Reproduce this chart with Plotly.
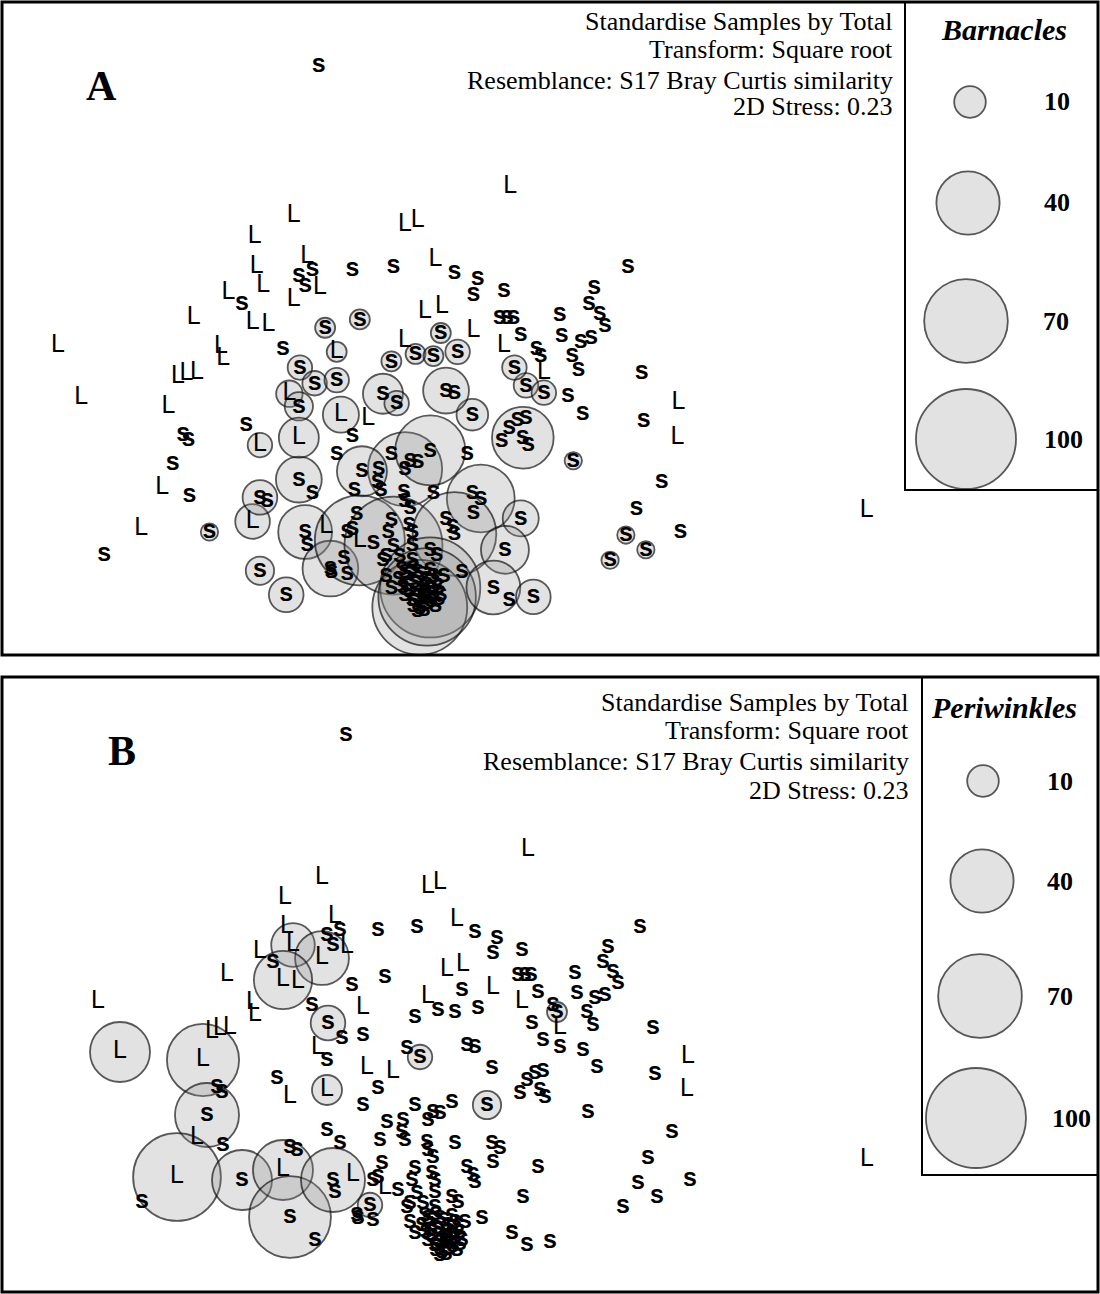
import numpy as np
import plotly.graph_objects as go

# nMDS ordination of quadrat samples (S = sheltered shore, L = lagoon shore)
site = list(
    "sLLLLLLLss" "sLssLsssss" "ssssLLsLLL" "ssLLLLsLss" "sLsLLLLLLs"
    "sssLsLssLs" "sssLssssss" "LLsLssssss" "ssssssssss" "ssssssLsss"
    "ssssssssss" "ssssssssss" "ssssssssss" "ssssssssss" "ssssssssss"
    "ssLLssssss" "ssssssssss" "ssLsssssss" "sssssLLsLL" "LssssL"
    "ssssssssss" "ssss"
)

mds1 = [
    -1.24, 0.58, -0.42, -0.30, -1.48, -1.85, -1.35, -1.83, -1.43, -1.30,
    -1.37, -1.23, -0.92, -0.53, -0.13, 0.05, 0.27, 0.23, 0.52, 1.70,
    1.38, 1.33, 1.43, 1.48, -1.77, -2.10, -1.97, -1.48, -1.87, -1.72,
    -1.18, -0.85, -2.43, -3.72, -2.17, -2.15, -1.58, -1.07, -1.42, -1.28,
    -1.07, -1.52, -1.43, -1.03, -2.58, -2.50, -2.40, -3.50, -2.67, -1.93,
    -2.53, -2.48, -2.63, -2.73, -2.47, -2.93, -3.28, -2.28, -1.87, -1.80,
    -1.73, -1.80, -1.55, -1.17, -1.37, -1.35, -1.13, -1.07, -1.43, -1.30,
    -1.80, -1.43, -0.92, -0.77, -0.55, -0.37, -0.30, -0.42, -0.18, 0.17,
    -0.83, -0.67, -0.68, -0.65, -0.90, -0.43, -0.42, -0.37, -0.15, 0.22,
    0.30, 0.23, 0.68, -0.88, -0.97, -0.92, -0.85, -0.72, -0.55, -0.58,
    -0.53, -0.60, -0.63, -0.38, -0.35, -0.35, -0.47, -0.35, -0.03, 0.03,
    0.05, -0.18, -0.12, -0.60, -0.55, -0.45, -0.38, -0.30, -0.22, -0.15,
    -0.40, -0.32, -0.25, -0.18, -0.10, -0.35, -0.28, -0.20, -0.42, -0.33,
    -0.24, -0.21, -0.30, -0.08, -0.48, -0.13, -0.05, 0.12, 0.53, 0.42,
    0.57, 0.80, -1.00, -1.12, -0.97, 1.18, 2.02, 1.78, 1.68, 2.20,
    1.87, 1.53, 2.17, 2.18, 1.85, 1.27, 0.65, 0.73, 0.57, 0.70,
    0.75, 0.50, 0.22, 1.83, 0.73, 0.90, 1.13, -0.03, 0.05, -0.63,
    -0.50, 0.62, 0.90, 1.17, 1.23, 0.83, 0.87, -0.32, -0.15, 0.08,
    -0.55, 1.25, 1.35, 1.07, 0.68, 0.52, 0.23, -0.08, -0.42, -0.23,
    -0.07, 0.48, 0.55, 0.61, 1.05, 3.97,
    -0.42, -0.34, -0.26, -0.18, -0.12, -0.38, -0.30, -0.23, -0.15, -0.34,
    -0.24, -0.17, -0.44, -0.10,
]

mds2 = [
    2.65, 1.50, 1.13, 1.17, 1.22, 1.02, 0.83, 0.73, 0.65, 0.70,
    0.55, 0.53, 0.70, 0.73, 0.80, 0.68, 0.62, 0.47, 0.50, 0.73,
    0.53, 0.38, 0.28, 0.17, 0.55, 0.48, 0.38, 0.42, 0.20, 0.18,
    0.15, 0.23, 0.25, -0.02, -0.03, -0.15, -0.05, -0.08, -0.23, -0.38,
    -0.35, -0.48, -0.60, -0.68, -0.32, -0.29, -0.28, -0.52, -0.60, -0.78,
    -0.87, -0.92, -1.15, -1.38, -1.45, -1.77, -2.02, -1.80, -1.70, -1.47,
    -1.50, -2.17, -2.40, -1.75, -1.80, -1.92, -2.15, -1.05, -1.30, -1.43,
    -0.97, -0.90, -0.88, -0.72, -1.05, -1.12, -1.13, -1.20, -1.02, -1.05,
    -1.22, -1.20, -1.32, -1.40, -1.40, -1.42, -1.50, -1.57, -1.43, -1.43,
    -1.48, -1.62, -1.67, -1.63, -1.80, -1.77, -1.88, -1.90, -1.68, -1.80,
    -1.93, -2.03, -2.07, -1.73, -1.80, -1.92, -2.03, -2.07, -1.67, -1.75,
    -1.82, -1.97, -2.02, -2.22, -2.33, -2.15, -2.20, -2.18, -2.25, -2.22,
    -2.30, -2.35, -2.40, -2.33, -2.32, -2.45, -2.52, -2.48, -2.40, -2.28,
    -2.32, -2.42, -2.55, -2.40, -2.25, -2.50, -2.22, -2.18, -1.97, -2.33,
    -2.45, -2.42, -2.05, -2.18, -2.20, -1.12, -1.32, -1.58, -1.83, -1.80,
    -1.97, -2.07, -0.90, -0.57, -0.74, -0.67, -0.73, -0.71, -0.80, -0.90,
    -0.97, -0.93, -0.68, -0.28, -0.40, -0.47, -0.50, -0.45, -0.47, -0.48,
    -0.57, -0.23, -0.28, -0.12, -0.25, -0.05, -0.12, -0.10, -0.12, -0.08,
    -0.17, 0.02, 0.05, 0.07, 0.08, -0.02, 0.12, 0.10, 0.03, 0.30,
    0.35, 0.25, 0.25, 0.25, 0.27, -1.60,
    -2.18, -2.14, -2.20, -2.16, -2.26, -2.36, -2.42, -2.36, -2.38, -2.50,
    -2.54, -2.46, -2.32, -2.44,
]

# percentage cover in each quadrat
barnacles = [
    0, 0, 0, 0, 0, 0, 0, 0, 0, 0,
    0, 0, 0, 0, 0, 0, 0, 0, 0, 0,
    0, 0, 0, 0, 0, 0, 0, 0, 0, 0,
    4, 4, 0, 0, 0, 0, 0, 4, 6, 6,
    6, 7, 8, 13, 0, 0, 0, 0, 0, 0,
    0, 0, 0, 0, 0, 0, 0, 3, 12, 12,
    0, 8, 12, 0, 29, 0, 31, 0, 21, 0,
    6, 16, 0, 0, 0, 0, 0, 55, 49, 0,
    25, 0, 0, 0, 0, 0, 0, 0, 0, 0,
    46, 0, 13, 0, 0, 0, 81, 0, 0, 0,
    96, 0, 0, 0, 0, 0, 0, 0, 0, 0,
    70, 0, 0, 0, 0, 0, 0, 0, 0, 0,
    0, 0, 0, 100, 0, 0, 90, 0, 0, 0,
    0, 95, 0, 0, 0, 0, 0, 0, 23, 29,
    0, 12, 0, 0, 0, 3, 0, 0, 3, 0,
    3, 3, 0, 0, 0, 0, 0, 0, 0, 38,
    0, 0, 10, 0, 6, 6, 0, 21, 0, 16,
    6, 6, 0, 0, 0, 0, 0, 4, 4, 6,
    4, 0, 0, 0, 0, 0, 0, 4, 0, 0,
    0, 0, 0, 0, 0, 0,
    0, 0, 0, 0, 0, 0, 0, 0, 0, 0,
    0, 0, 0, 0,
]

periwinkles = [
    0, 0, 0, 0, 0, 0, 0, 0, 0, 0,
    0, 0, 0, 0, 0, 0, 0, 0, 0, 0,
    0, 0, 0, 0, 19, 0, 0, 29, 34, 0,
    0, 0, 0, 0, 0, 0, 0, 0, 12, 0,
    0, 0, 0, 0, 0, 0, 0, 36, 52, 0,
    0, 0, 41, 0, 0, 77, 0, 36, 36, 0,
    0, 67, 0, 0, 41, 0, 0, 0, 0, 0,
    0, 9, 0, 0, 0, 0, 0, 0, 0, 8,
    0, 0, 0, 0, 0, 0, 0, 0, 0, 0,
    0, 0, 0, 0, 0, 0, 0, 0, 0, 0,
    0, 0, 0, 0, 0, 0, 0, 0, 0, 0,
    0, 0, 0, 0, 0, 0, 0, 0, 0, 0,
    0, 0, 0, 0, 0, 0, 0, 0, 0, 0,
    0, 0, 0, 0, 0, 0, 0, 0, 0, 0,
    0, 0, 6, 0, 0, 0, 0, 0, 0, 0,
    0, 0, 0, 0, 0, 0, 0, 0, 0, 0,
    0, 0, 0, 0, 0, 0, 0, 0, 0, 0,
    6, 0, 0, 0, 0, 0, 4, 0, 0, 0,
    0, 0, 0, 0, 0, 0, 0, 0, 0, 0,
    0, 0, 0, 0, 0, 0,
    0, 0, 0, 0, 0, 0, 0, 0, 0, 0,
    0, 0, 0, 0,
]

legend_values = [10, 40, 70, 100]
stats_lines = [
    "Standardise Samples by Total",
    "Transform: Square root",
    "Resemblance: S17 Bray Curtis similarity",
    "2D Stress: 0.23",
]

W, H = 1100, 1294
SANS = "Liberation Sans, Arial, sans-serif"
SERIF = "Liberation Serif, Times New Roman, serif"
BUBBLE_FILL = "rgba(140,140,140,0.36)"
BUBBLE_LINE = dict(color="#111111", width=1.8)


def px(x):
    return x / W


def py(y):
    return 1 - y / H


def bubble_diameter(v):
    return 10.0 * np.sqrt(np.asarray(v, dtype=float))


x = np.array(mds1)
y = np.array(mds2)
lab = np.array(site)

panels = [
    dict(key="A", values=np.array(barnacles), xa="x", ya="y",
         xr=[-4.253, 6.170], yr=[-2.975, 3.261], top=2, bottom=655,
         legend_title="Barnacles", box_left=905, box_bottom=490,
         text_right=895, text_y=[22, 50, 80, 107], letter_xy=(101, 86),
         leg_cx=[970, 968, 966, 966], leg_cy=[102, 203, 321, 439],
         num_x=[1057, 1057, 1056, 1063], title_xy=(1004, 30)),
    dict(key="B", values=np.array(periwinkles), xa="x2", ya="y2",
         xr=[-4.68, 6.28], yr=[-2.92, 3.23], top=677, bottom=1292,
         legend_title="Periwinkles", box_left=922, box_bottom=1175,
         text_right=911, text_y=[702, 731, 761, 790], letter_xy=(122, 751),
         leg_cx=[983, 982, 980, 976], leg_cy=[781, 881, 996, 1118],
         num_x=[1060, 1060, 1060, 1071], title_xy=(1004, 707)),
]

fig = go.Figure()
shapes = []
annotations = []

for p in panels:
    v = p["values"]
    has = v > 0
    # abundance bubbles centred on each sample
    fig.add_trace(go.Scatter(
        x=x[has], y=y[has], xaxis=p["xa"], yaxis=p["ya"], mode="markers",
        marker=dict(size=bubble_diameter(v[has]), sizemode="diameter",
                    color=BUBBLE_FILL, line=BUBBLE_LINE),
        hoverinfo="skip", showlegend=False,
    ))
    # sample labels
    for letter, weight, fsize in (("s", "bold", 25), ("L", "normal", 25)):
        m = lab == letter
        fig.add_trace(go.Scatter(
            x=x[m], y=y[m], xaxis=p["xa"], yaxis=p["ya"], mode="text",
            text=[letter] * int(m.sum()), textposition="middle center",
            textfont=dict(family=SANS, size=fsize, color="black", weight=weight),
            hoverinfo="skip", showlegend=False, cliponaxis=False,
        ))

    # legend bubbles on a pixel-scaled overlay axis
    fig.add_trace(go.Scatter(
        x=p["leg_cx"], y=p["leg_cy"], xaxis="x3", yaxis="y3", mode="markers",
        marker=dict(size=bubble_diameter(legend_values), sizemode="diameter",
                    color=BUBBLE_FILL, line=BUBBLE_LINE),
        hoverinfo="skip", showlegend=False,
    ))
    for val, nx, cy in zip(legend_values, p["num_x"], p["leg_cy"]):
        annotations.append(dict(
            x=px(nx), y=py(cy), xref="paper", yref="paper", text=f"<b>{val}</b>",
            showarrow=False, xanchor="center", yanchor="middle",
            font=dict(family=SERIF, size=26, color="black")))
    annotations.append(dict(
        x=px(p["title_xy"][0]), y=py(p["title_xy"][1]), xref="paper", yref="paper",
        text=f"<b><i>{p['legend_title']}</i></b>", showarrow=False,
        xanchor="center", yanchor="middle",
        font=dict(family=SERIF, size=30, color="black")))

    # analysis notes
    for line, ty in zip(stats_lines, p["text_y"]):
        annotations.append(dict(
            x=px(p["text_right"]), y=py(ty), xref="paper", yref="paper",
            text=line, showarrow=False, xanchor="right", yanchor="middle",
            font=dict(family=SERIF, size=26, color="black")))
    annotations.append(dict(
        x=px(p["letter_xy"][0]), y=py(p["letter_xy"][1]), xref="paper",
        yref="paper", text=f"<b>{p['key']}</b>", showarrow=False,
        xanchor="center", yanchor="middle",
        font=dict(family=SERIF, size=42, color="black")))

    # panel frame and legend box
    shapes.append(dict(type="rect", xref="paper", yref="paper",
                       x0=px(2), x1=px(1098), y0=py(p["bottom"]), y1=py(p["top"]),
                       line=dict(color="black", width=3)))
    shapes.append(dict(type="rect", xref="paper", yref="paper",
                       x0=px(p["box_left"]), x1=px(1098),
                       y0=py(p["box_bottom"]), y1=py(p["top"]),
                       line=dict(color="black", width=2)))

pa, pb = panels
hidden = dict(visible=False, showgrid=False, zeroline=False, fixedrange=True)
fig.update_layout(
    width=W, height=H, margin=dict(l=0, r=0, t=0, b=0),
    paper_bgcolor="white", plot_bgcolor="rgba(0,0,0,0)", showlegend=False,
    xaxis=dict(domain=[px(2), px(1098)], range=pa["xr"], anchor="y", **hidden),
    yaxis=dict(domain=[py(pa["bottom"]), py(pa["top"])], range=pa["yr"], anchor="x", **hidden),
    xaxis2=dict(domain=[px(2), px(1098)], range=pb["xr"], anchor="y2", **hidden),
    yaxis2=dict(domain=[py(pb["bottom"]), py(pb["top"])], range=pb["yr"], anchor="x2", **hidden),
    xaxis3=dict(domain=[0, 1], range=[0, W], anchor="y3", **hidden),
    yaxis3=dict(domain=[0, 1], range=[H, 0], anchor="x3", **hidden),
    shapes=shapes, annotations=annotations,
)

fig.write_html("out.html")
